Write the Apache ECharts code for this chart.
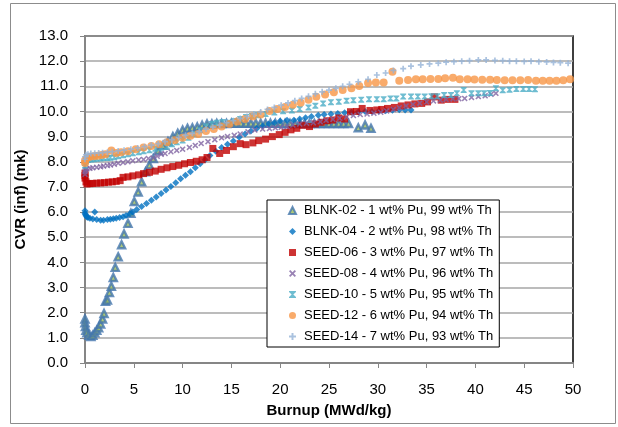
<!DOCTYPE html>
<html>
<head>
<meta charset="utf-8">
<script src="https://cdn.jsdelivr.net/npm/echarts@6/dist/echarts.min.js"></script>
<style>
  html, body { margin: 0; padding: 0; background: #fff; }
  #chart { width: 618px; height: 427px; }
</style>
</head>
<body>
<div id="chart"></div>
<script>
// Axis ticks
const xTicks = [0, 5, 10, 15, 20, 25, 30, 35, 40, 45, 50];
const yTicks = [0, 1, 2, 3, 4, 5, 6, 7, 8, 9, 10, 11, 12, 13];

// Series names
const seriesNames = [
  'BLNK-02 - 1 wt% Pu, 99 wt% Th',
  'BLNK-04 - 2 wt% Pu, 98 wt% Th',
  'SEED-06 - 3 wt% Pu, 97 wt% Th',
  'SEED-08 - 4 wt% Pu, 96 wt% Th',
  'SEED-10 - 5 wt% Pu, 95 wt% Th',
  'SEED-12 - 6 wt% Pu, 94 wt% Th',
  'SEED-14 - 7 wt% Pu, 93 wt% Th'
];

// [burnup (MWd/kg), CVR (mk)]
const blnk02 = [[0,1.75],[0,1.6],[0.05,1.45],[0.1,1.3],[0.2,1.2],[0.4,1.1],[0.6,1.05],[0.8,1.1],[1.0,1.2],[1.2,1.3],[1.4,1.4],[1.6,1.55],[1.8,1.75],[1.95,1.97],[2.1,2.45],[2.3,2.5],[2.5,2.8],[2.7,3.05],[2.9,3.4],[3.1,3.8],[3.4,4.22],[3.75,4.7],[4.0,5.13],[4.4,5.55],[4.7,5.95],[5.05,6.42],[5.45,6.8],[5.8,7.2],[6.2,7.6],[6.6,7.87],[7.0,8.13],[7.5,8.45],[8.0,8.65],[8.5,8.8],[9.0,9.0],[9.5,9.13],[10.0,9.26],[10.5,9.33],[11.0,9.35],[11.5,9.38],[12.0,9.45],[12.5,9.5],[13.0,9.5],[13.5,9.52],[14.0,9.52],[14.5,9.52],[15.0,9.53],[15.5,9.53],[16.0,9.53],[16.5,9.53],[17.0,9.53],[17.5,9.53],[18.0,9.53],[18.5,9.53],[19.0,9.53],[19.5,9.53],[20.0,9.53],[20.5,9.52],[21.0,9.52],[21.5,9.52],[22.0,9.52],[22.5,9.52],[23.0,9.52],[23.5,9.52],[24.0,9.52],[24.5,9.52],[25.0,9.52],[25.5,9.52],[26.0,9.52],[26.5,9.52],[27.0,9.52],[28.0,9.35],[28.7,9.46],[29.3,9.33]];

const blnk04 = [[0,6.05],[0,5.95],[0.05,5.9],[0.1,5.85],[0.2,5.8],[0.3,5.78],[1.0,6.0],[0.5,5.75],[0.8,5.72],[1.2,5.7],[1.6,5.68],[1.9,5.68],[2.3,5.7],[2.6,5.71],[2.9,5.73],[3.2,5.75],[3.55,5.78],[3.9,5.81],[4.2,5.86],[4.6,5.93],[4.9,6.0],[5.3,6.1],[5.8,6.22],[6.3,6.34],[6.8,6.47],[7.3,6.6],[7.8,6.74],[8.3,6.88],[8.8,7.02],[9.3,7.17],[9.8,7.32],[10.3,7.46],[10.8,7.6],[11.3,7.76],[11.8,7.92],[12.3,8.08],[12.8,8.25],[13.4,8.42],[14.0,8.57],[14.6,8.7],[15.2,8.83],[15.8,8.97],[16.4,9.1],[17.0,9.22],[17.6,9.32],[18.2,9.42],[18.8,9.5],[19.4,9.55],[20.0,9.62],[20.7,9.65],[21.4,9.65],[22.0,9.7],[22.6,9.75],[23.2,9.8],[23.9,9.85],[24.5,9.88],[25.2,9.9],[25.9,9.92],[26.6,9.95],[27.3,9.97],[28.0,9.98],[28.7,10.0],[29.4,10.0],[30.1,10.02],[30.8,10.03],[31.5,10.05],[32.2,10.07],[32.8,10.06],[33.4,10.06]];

const seed06 = [[0,7.55],[0,7.45],[0,7.35],[0.1,7.2],[0.2,7.12],[0.5,7.13],[0.8,7.14],[1.2,7.15],[1.6,7.16],[2.0,7.17],[2.4,7.19],[2.8,7.2],[3.2,7.22],[3.6,7.25],[3.9,7.38],[4.4,7.4],[4.9,7.44],[5.5,7.48],[6.0,7.53],[6.6,7.58],[7.2,7.63],[7.8,7.7],[8.4,7.76],[9.0,7.81],[9.6,7.86],[10.2,7.92],[10.8,7.97],[11.4,8.02],[12.0,8.08],[12.5,8.17],[13.1,8.53],[13.8,8.33],[14.5,8.45],[15.2,8.6],[15.9,8.72],[16.5,8.68],[17.2,8.75],[17.8,8.84],[18.5,8.9],[19.2,9.0],[19.9,9.08],[20.5,9.17],[21.1,9.27],[21.7,9.33],[22.3,9.45],[23.0,9.4],[23.6,9.5],[24.2,9.57],[24.8,9.63],[25.4,9.66],[26.0,9.74],[26.6,9.7],[27.2,9.99],[27.8,10.0],[28.4,10.12],[29.2,10.04],[29.9,10.06],[30.4,10.08],[31.0,10.12],[31.7,10.16],[32.4,10.22],[33.1,10.26],[33.8,10.3],[34.5,10.32],[35.1,10.38],[35.8,10.58],[36.5,10.45],[37.2,10.48],[37.9,10.48]];

const seed08 = [[0,7.5],[0,7.6],[0.05,7.67],[0.2,7.72],[0.5,7.74],[0.8,7.76],[1.2,7.78],[1.6,7.8],[1.9,7.83],[2.3,7.85],[2.6,7.87],[3.0,7.9],[3.4,7.94],[3.9,7.97],[4.4,8.0],[4.9,8.04],[5.5,8.07],[6.0,8.09],[6.5,8.13],[7.0,8.15],[7.4,8.22],[7.8,8.3],[8.2,8.33],[8.8,8.4],[9.4,8.45],[10.0,8.5],[10.7,8.57],[11.3,8.65],[11.9,8.73],[12.6,8.8],[13.3,8.88],[14.0,8.95],[14.6,9.0],[15.3,9.05],[15.9,9.1],[16.7,9.19],[17.4,9.26],[18.2,9.3],[18.9,9.32],[19.5,9.35],[20.1,9.37],[20.7,9.4],[21.3,9.46],[22.0,9.5],[22.7,9.53],[23.4,9.55],[24.1,9.59],[24.7,9.65],[25.4,9.69],[26.1,9.73],[26.8,9.78],[27.5,9.84],[28.2,9.88],[28.9,9.9],[29.6,9.93],[30.3,9.97],[30.9,10.02],[31.6,10.08],[32.2,10.15],[32.9,10.22],[33.6,10.28],[34.3,10.33],[35.0,10.38],[35.7,10.42],[36.4,10.45],[37.0,10.48],[37.7,10.5],[38.3,10.51],[38.9,10.52],[39.6,10.56],[40.3,10.59],[41.0,10.62],[41.6,10.68],[42.1,10.72]];

const seed10 = [[0,7.85],[0,7.95],[0.1,8.02],[0.3,8.07],[0.6,8.09],[0.9,8.1],[1.2,8.12],[1.6,8.13],[1.9,8.15],[2.3,8.15],[2.6,8.16],[3.0,8.18],[3.4,8.22],[3.9,8.26],[4.4,8.3],[4.9,8.34],[5.5,8.38],[6.0,8.42],[6.6,8.46],[7.2,8.52],[7.8,8.56],[8.4,8.6],[8.9,8.7],[9.4,8.78],[10.0,8.85],[10.6,8.95],[11.2,9.1],[11.8,9.25],[12.4,9.4],[13.0,9.5],[13.5,9.55],[14.1,9.58],[14.7,9.55],[15.3,9.62],[15.9,9.7],[16.5,9.78],[17.1,9.82],[17.7,9.85],[18.5,9.9],[19.4,9.96],[20.3,10.01],[21.2,10.04],[22.0,10.1],[22.9,10.16],[23.6,10.23],[24.4,10.32],[25.2,10.37],[26.0,10.39],[26.8,10.43],[27.5,10.45],[28.3,10.47],[29.1,10.49],[29.9,10.49],[30.6,10.49],[31.3,10.52],[31.9,10.52],[32.6,10.59],[33.4,10.59],[34.1,10.59],[34.8,10.59],[35.5,10.6],[36.1,10.6],[36.8,10.65],[37.5,10.65],[38.1,10.72],[38.8,10.85],[39.6,10.72],[40.3,10.72],[40.9,10.72],[41.5,10.73],[42.1,10.92],[42.8,10.84],[43.5,10.86],[44.2,10.89],[44.9,10.89],[45.5,10.89],[46.1,10.88]];

const seed12 = [[0,7.95],[0,8.05],[0.2,8.15],[0.5,8.2],[0.9,8.22],[1.3,8.24],[1.7,8.27],[2.1,8.3],[2.7,8.45],[3.2,8.35],[3.7,8.38],[4.4,8.42],[5.2,8.5],[6.0,8.57],[6.8,8.63],[7.6,8.7],[8.4,8.78],[9.2,8.86],[10.0,8.95],[10.8,9.03],[11.6,9.1],[12.4,9.22],[13.2,9.3],[14.0,9.4],[14.8,9.5],[15.6,9.6],[16.4,9.7],[17.2,9.8],[18.0,9.88],[18.9,10.02],[19.7,10.1],[20.5,10.18],[21.3,10.27],[22.1,10.35],[22.9,10.47],[23.7,10.58],[24.6,10.67],[25.5,10.76],[26.4,10.85],[27.3,10.92],[28.1,11.01],[29.0,11.13],[29.8,11.15],[30.6,11.15],[31.5,11.58],[32.2,11.22],[33.1,11.25],[33.9,11.28],[34.6,11.28],[35.4,11.29],[36.2,11.29],[36.9,11.32],[37.7,11.34],[38.4,11.28],[39.2,11.28],[39.9,11.27],[40.7,11.26],[41.5,11.26],[42.2,11.25],[43.0,11.24],[43.8,11.24],[44.6,11.24],[45.4,11.25],[46.2,11.22],[46.9,11.22],[47.6,11.22],[48.3,11.22],[49.0,11.24],[49.7,11.28]];

const seed14 = [[0,8.1],[0,8.2],[0.1,8.28],[0.3,8.3],[0.6,8.33],[1.0,8.34],[1.4,8.35],[1.8,8.36],[2.3,8.38],[2.8,8.4],[3.4,8.43],[4.0,8.46],[4.7,8.5],[5.4,8.55],[6.1,8.6],[6.8,8.66],[7.5,8.72],[8.2,8.8],[8.9,8.88],[9.6,8.97],[10.3,9.05],[11.0,9.13],[11.7,9.2],[12.4,9.3],[13.1,9.38],[13.8,9.46],[14.5,9.55],[15.2,9.63],[15.9,9.72],[16.6,9.8],[17.3,9.9],[18.0,9.98],[18.7,10.08],[19.4,10.16],[20.1,10.25],[20.8,10.34],[21.5,10.43],[22.2,10.52],[22.9,10.6],[23.6,10.7],[24.3,10.78],[25.0,10.85],[25.7,10.92],[26.4,11.0],[27.1,11.08],[28.0,11.18],[29.0,11.28],[29.9,11.45],[30.8,11.53],[31.6,11.63],[32.6,11.7],[33.4,11.8],[34.4,11.85],[35.3,11.89],[36.2,11.92],[37.0,11.96],[37.8,11.98],[38.6,12.0],[39.4,12.02],[40.3,12.05],[41.1,12.05],[42.0,12.03],[42.8,12.02],[43.5,12.0],[44.2,12.0],[45.0,11.99],[45.7,12.0],[46.5,11.98],[47.3,11.97],[48.0,11.95],[48.7,11.94],[49.5,11.92]];

// Marker shapes
const xMark = 'path://M0,1.8L1.8,0L5,3.2L8.2,0L10,1.8L6.8,5L10,8.2L8.2,10L5,6.8L1.8,10L0,8.2L3.2,5Z';
const hourglass = 'path://M0,0L10,0L10,1.6L6.2,5L10,8.4L10,10L0,10L0,8.4L3.8,5L0,1.6Z';
const plusMark = 'path://M3.6,0L6.4,0L6.4,3.6L10,3.6L10,6.4L6.4,6.4L6.4,10L3.6,10L3.6,6.4L0,6.4L0,3.6L3.6,3.6Z';

const FONT = 'Liberation Sans, Arial, sans-serif';

const styles = [
  { symbol: 'triangle', size: 7, itemStyle: { color: '#9bbb59', borderColor: '#4475ae', borderWidth: 2.4 } },
  { symbol: 'diamond', size: 7, itemStyle: { color: '#0070c0' } },
  { symbol: 'rect', size: 7, itemStyle: { color: '#c00000' } },
  { symbol: xMark, size: 6, itemStyle: { color: '#7f63a1' } },
  { symbol: hourglass, size: 6, itemStyle: { color: '#4bacc6' } },
  { symbol: 'circle', size: 8, itemStyle: { color: '#f79646' } },
  { symbol: plusMark, size: 6, itemStyle: { color: '#95b3d7' } }
];
const seriesData = [blnk02, blnk04, seed06, seed08, seed10, seed12, seed14];

const chart = echarts.init(document.getElementById('chart'), null, { renderer: 'canvas' });

chart.setOption({
  animation: false,
  backgroundColor: '#fff',
  textStyle: { fontFamily: FONT },
  graphic: [{
    type: 'rect',
    shape: { x: 10.5, y: 3.5, width: 605, height: 420 },
    style: { fill: 'none', stroke: '#8c8c8c', lineWidth: 1 },
    z: -10
  }],
  grid: {
    left: 85, right: 45, top: 36, bottom: 64,
    show: true, borderColor: '#000', borderWidth: 1.5, backgroundColor: 'transparent'
  },
  legend: {
    orient: 'vertical',
    left: 267, top: 200,
    padding: [0, 6, 0, 21],
    itemGap: 0,
    itemWidth: 7, itemHeight: 7,
    backgroundColor: '#fff',
    borderColor: '#000', borderWidth: 1,
    textStyle: { fontFamily: FONT, fontSize: 13, color: '#000', lineHeight: 21, padding: [0, 0, 0, 3] },
    data: seriesNames
  },
  xAxis: {
    type: 'value', min: 0, max: 50, interval: 5,
    name: 'Burnup (MWd/kg)', nameLocation: 'middle', nameGap: 40,
    nameTextStyle: { fontFamily: FONT, fontSize: 15, fontWeight: 'bold', color: '#000' },
    axisLine: { show: true, onZero: false, lineStyle: { color: '#868686', width: 2 } },
    axisTick: { show: true, inside: false, length: 5, lineStyle: { color: '#868686', width: 1 } },
    axisLabel: { margin: 19, fontFamily: FONT, fontSize: 15, color: '#000',
      customValues: xTicks, formatter: v => String(v) },
    splitLine: { show: false }
  },
  yAxis: {
    type: 'value', min: 0, max: 13, interval: 1,
    name: 'CVR (inf) (mk)', nameLocation: 'middle', nameGap: 50, nameRotate: 90,
    nameTextStyle: { fontFamily: FONT, fontSize: 15, fontWeight: 'bold', color: '#000' },
    axisLine: { show: true, lineStyle: { color: '#868686', width: 2 } },
    axisTick: { show: true, inside: false, length: 5, lineStyle: { color: '#868686', width: 1 } },
    axisLabel: { margin: 17, fontFamily: FONT, fontSize: 15, color: '#000',
      customValues: yTicks, formatter: v => v.toFixed(1) },
    splitLine: { show: true, lineStyle: { color: '#a6a6a6', width: 1.5 } }
  },
  series: seriesNames.map((name, i) => ({
    name: name,
    type: 'scatter',
    data: seriesData[i],
    symbol: styles[i].symbol,
    symbolSize: styles[i].size,
    symbolKeepAspect: true,
    itemStyle: styles[i].itemStyle,
    emphasis: { disabled: true },
    z: 2 + i
  }))
});
</script>
</body>
</html>
